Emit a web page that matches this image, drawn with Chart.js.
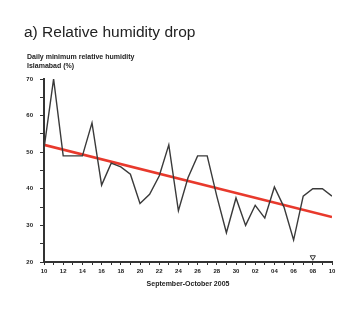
<!DOCTYPE html>
<html>
<head>
<meta charset="utf-8">
<script src="https://cdn.jsdelivr.net/npm/chart.js@4"></script>
<style>
  body { margin: 0; background: #fff; }
  #wrap { position: relative; width: 360px; height: 330px; }
  #title { position: absolute; left: 24px; top: 24px; font: 15.5px/15.5px "Liberation Sans", Arial, sans-serif; color: #222; white-space: nowrap; }
  #sub { position: absolute; left: 27px; top: 53px; font: bold 7px/8.5px "Liberation Sans", Arial, sans-serif; color: #222; white-space: nowrap; }
  canvas { position: absolute; left: 0; top: 0; }
</style>
</head>
<body>
<div id="wrap">
  <canvas id="rhChart" width="360" height="330"></canvas>
  <div id="title">a) Relative humidity drop</div>
  <div id="sub">Daily minimum relative humidity<br>Islamabad (%)</div>
</div>
<script>
// days, Sep 10 .. Oct 10 2005
var dayLabels = ['10','11','12','13','14','15','16','17','18','19','20','21','22','23','24','25',
                 '26','27','28','29','30','01','02','03','04','05','06','07','08','09','10'];
var humidity = [51, 70, 49, 49, 49, 58, 41, 47, 46, 44, 36, 38.5, 43.5, 52, 34, 43,
                49, 49, 38, 28, 37.5, 30, 35.5, 32, 40.5, 35, 26, 38, 40, 40, 38];
var trendDays = [0, 30];
var trendValues = [52, 32.3];
var markerDay = 28;
var markerValue = 21.3;

var ctx = document.getElementById('rhChart').getContext('2d');
var myChart = new Chart(ctx, {
    type: 'line',
    data: {
        datasets: [{
            data: humidity.map(function (v, i) { return { x: i, y: v }; }),
            borderColor: '#3a3a3a',
            borderWidth: 1.4,
            pointRadius: 0,
            tension: 0,
            fill: false
        }, {
            data: trendDays.map(function (d, i) { return { x: d, y: trendValues[i] }; }),
            borderColor: '#e8392c',
            borderWidth: 2.6,
            pointRadius: 0,
            fill: false
        }, {
            data: [{ x: markerDay, y: markerValue }],
            showLine: false,
            pointStyle: 'triangle',
            rotation: 180,
            pointRadius: 3,
            backgroundColor: '#fff',
            borderColor: '#333',
            borderWidth: 1
        }]
    },
    options: {
        responsive: false,
        animation: false,
        layout: { padding: { top: 79, right: 28, left: 0, bottom: 40 } },
        plugins: { legend: { display: false }, tooltip: { enabled: false } },
        scales: {
            x: {
                type: 'linear',
                min: 0,
                max: 30,
                afterFit: function (s) { s.height = 28; },
                ticks: {
                    stepSize: 1,
                    autoSkip: false,
                    maxRotation: 0,
                    padding: 3,
                    color: '#222',
                    font: { size: 6, weight: 'bold', family: 'Liberation Sans' },
                    callback: function (v) { return v % 2 === 0 ? dayLabels[v] : ''; }
                },
                grid: { drawOnChartArea: false, tickLength: 3, tickColor: '#333' },
                border: { color: '#333', width: 2 },
                title: {
                    display: true,
                    text: 'September-October 2005',
                    color: '#222',
                    padding: { top: 0, bottom: 2 },
                    font: { size: 7, weight: 'bold', family: 'Liberation Sans' }
                }
            },
            y: {
                min: 20,
                max: 70,
                afterFit: function (s) { s.width = 44; },
                ticks: {
                    stepSize: 5,
                    padding: 7,
                    color: '#222',
                    font: { size: 6, weight: 'bold', family: 'Liberation Sans' },
                    callback: function (v) { return v % 10 === 0 ? v : ''; }
                },
                grid: { drawOnChartArea: false, tickLength: 4, tickColor: '#333' },
                border: { color: '#333', width: 2 }
            }
        }
    }
});
</script>
</body>
</html>
